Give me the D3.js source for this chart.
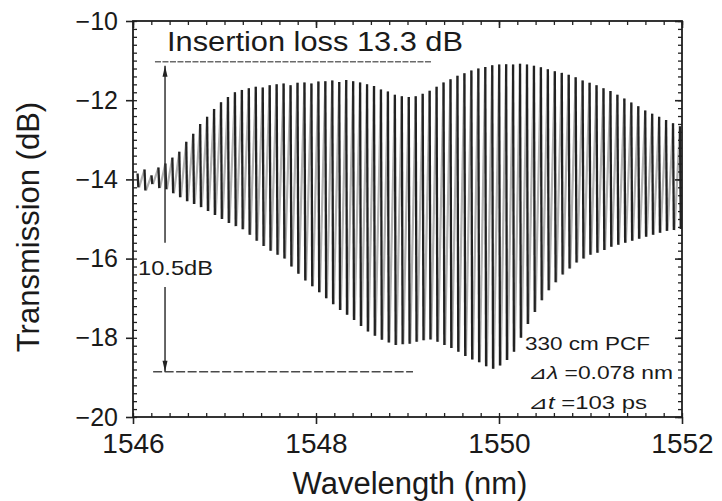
<!DOCTYPE html>
<html>
<head>
<meta charset="utf-8">
<script src="https://cdn.jsdelivr.net/npm/d3@7"></script>
<style>
  body { margin: 0; background: #fff; }
  text { font-family: "Liberation Sans", Arial, sans-serif; fill: #1a1a1a; }
</style>
</head>
<body>
<svg id="chart" width="722" height="501"></svg>
<script>
// Fringe positions (nm) with the maximum and minimum transmission of each fringe (dB)
const fringeNm = [
  1546.050, 1546.126, 1546.202, 1546.278, 1546.354, 1546.430, 1546.506, 1546.582, 1546.658, 1546.734,
  1546.810, 1546.886, 1546.962, 1547.038, 1547.114, 1547.190, 1547.266, 1547.342, 1547.418, 1547.494,
  1547.570, 1547.646, 1547.722, 1547.798, 1547.874, 1547.950, 1548.026, 1548.102, 1548.178, 1548.254,
  1548.330, 1548.406, 1548.482, 1548.558, 1548.634, 1548.710, 1548.786, 1548.862, 1548.938, 1549.014,
  1549.090, 1549.166, 1549.242, 1549.318, 1549.394, 1549.470, 1549.546, 1549.622, 1549.698, 1549.774,
  1549.850, 1549.926, 1550.002, 1550.078, 1550.154, 1550.230, 1550.306, 1550.382, 1550.458, 1550.534,
  1550.610, 1550.686, 1550.762, 1550.838, 1550.914, 1550.990, 1551.066, 1551.142, 1551.218, 1551.294,
  1551.370, 1551.446, 1551.522, 1551.598, 1551.674, 1551.750, 1551.826, 1551.902, 1551.978
];
const peakDb = [
  -13.85, -13.75, -13.90, -13.70, -13.60, -13.45, -13.30, -13.05, -12.85, -12.60,
  -12.42, -12.22, -12.05, -11.92, -11.80, -11.74, -11.70, -11.66, -11.68, -11.62,
  -11.60, -11.58, -11.62, -11.56, -11.55, -11.58, -11.53, -11.52, -11.50, -11.54,
  -11.49, -11.52, -11.55, -11.60, -11.64, -11.73, -11.78, -11.86, -11.90, -11.92,
  -11.90, -11.84, -11.76, -11.66, -11.55, -11.47, -11.38, -11.32, -11.25, -11.20,
  -11.16, -11.12, -11.10, -11.09, -11.10, -11.08, -11.10, -11.13, -11.17, -11.22,
  -11.27, -11.31, -11.36, -11.42, -11.50, -11.56, -11.62, -11.70, -11.77, -11.86,
  -11.96, -12.06, -12.15, -12.26, -12.34, -12.42, -12.50, -12.58, -12.66
];
const troughDb = [
  -14.20, -14.28, -14.12, -14.22, -14.25, -14.35, -14.45, -14.55, -14.62, -14.70,
  -14.80, -14.90, -15.00, -15.10, -15.18, -15.26, -15.40, -15.55, -15.68, -15.80,
  -15.90, -16.00, -16.20, -16.38, -16.55, -16.70, -16.85, -17.00, -17.15, -17.30,
  -17.42, -17.55, -17.70, -17.84, -17.95, -18.05, -18.12, -18.18, -18.16, -18.15,
  -18.10, -18.06, -18.04, -18.10, -18.18, -18.26, -18.35, -18.46, -18.55, -18.62,
  -18.72, -18.78, -18.70, -18.56, -18.35, -18.00, -17.65, -17.35, -17.05, -16.80,
  -16.60, -16.40, -16.25, -16.10, -16.00, -15.90, -15.85, -15.78, -15.70, -15.65,
  -15.60, -15.55, -15.50, -15.45, -15.40, -15.35, -15.30, -15.28, -15.25
];

// Axis ticks
const xTicks = [1546, 1548, 1550, 1552];
const yTicks = [-20, -18, -16, -14, -12, -10];

// Reference levels for the insertion-loss / extinction annotation
const levelDb = [-11.03, -18.86];
const levelStartNm = [1546.24, 1546.22];
const levelEndNm = [1549.27, 1549.06];
const arrowNm = 1546.35;
const arrowGapDb = [-15.6, -16.72];

const svg = d3.select("#chart");
const W = 722, H = 501;
const m = { left: 133, right: 40, top: 21, bottom: 84 };

const x = d3.scaleLinear().domain([1546, 1552]).range([m.left, W - m.right]);
const y = d3.scaleLinear().domain([-20, -10]).range([H - m.bottom, m.top]);

// ---- trace ----
const fringes = fringeNm.map((nm, i) => ({ nm, peak: peakDb[i], trough: troughDb[i] }));
const trace = svg.append("g");

// rising edges between a minimum and the next maximum
trace.selectAll("line.rise")
  .data(d3.pairs(fringes))
  .join("line")
  .attr("x1", d => x(d[0].nm) + 1.5).attr("y1", d => y(d[0].trough))
  .attr("x2", d => x(d[1].nm)).attr("y2", d => y(d[1].peak))
  .attr("stroke", "#b0b0b0").attr("stroke-width", 2.2);

// falling edges drawn as dark bars
trace.selectAll("line.fall")
  .data(fringes)
  .join("line")
  .attr("x1", d => x(d.nm)).attr("y1", d => y(d.peak))
  .attr("x2", d => x(d.nm) + 0.8).attr("y2", d => y(d.trough))
  .attr("stroke", "#222").attr("stroke-width", 2.3);

// ---- axes ----
const tickFont = g => g.selectAll("text").style("font-family", "'Liberation Sans', Arial, sans-serif");

const xMinor = x.ticks(30);
const yMinor = y.ticks(50);

// bottom
svg.append("g").attr("transform", `translate(0,${H - m.bottom})`)
  .call(d3.axisBottom(x).tickValues(xMinor).tickSize(-4).tickFormat(""))
  .call(g => g.select(".domain").remove())
  .call(g => g.selectAll("line").attr("stroke", "#222").attr("stroke-width", 1.3));
svg.append("g").attr("transform", `translate(0,${H - m.bottom})`)
  .call(d3.axisBottom(x).tickValues(xTicks).tickSize(7).tickPadding(9).tickFormat(d3.format("d")))
  .call(g => g.select(".domain").remove())
  .call(g => g.selectAll("line").attr("stroke", "#222").attr("stroke-width", 1.6))
  .call(g => g.selectAll("text").attr("font-size", 28).attr("fill", "#1a1a1a"))
  .call(tickFont);

// top
svg.append("g").attr("transform", `translate(0,${m.top})`)
  .call(d3.axisTop(x).tickValues(xMinor).tickSize(-4).tickFormat(""))
  .call(g => g.select(".domain").remove())
  .call(g => g.selectAll("line").attr("stroke", "#222").attr("stroke-width", 1.3));
svg.append("g").attr("transform", `translate(0,${m.top})`)
  .call(d3.axisTop(x).tickValues(xTicks).tickSize(-7).tickFormat(""))
  .call(g => g.select(".domain").remove())
  .call(g => g.selectAll("line").attr("stroke", "#222").attr("stroke-width", 1.6));

// left
svg.append("g").attr("transform", `translate(${m.left},0)`)
  .call(d3.axisLeft(y).tickValues(yMinor).tickSize(-4).tickFormat(""))
  .call(g => g.select(".domain").remove())
  .call(g => g.selectAll("line").attr("stroke", "#222").attr("stroke-width", 1.3));
svg.append("g").attr("transform", `translate(${m.left},0)`)
  .call(d3.axisLeft(y).tickValues(yTicks).tickSize(7).tickPadding(8).tickFormat(d3.format("d")))
  .call(g => g.select(".domain").remove())
  .call(g => g.selectAll("line").attr("stroke", "#222").attr("stroke-width", 1.6))
  .call(g => g.selectAll("text").attr("font-size", 25).attr("fill", "#1a1a1a"))
  .call(tickFont);

// right
svg.append("g").attr("transform", `translate(${W - m.right},0)`)
  .call(d3.axisRight(y).tickValues(yMinor).tickSize(-4).tickFormat(""))
  .call(g => g.select(".domain").remove())
  .call(g => g.selectAll("line").attr("stroke", "#222").attr("stroke-width", 1.3));
svg.append("g").attr("transform", `translate(${W - m.right},0)`)
  .call(d3.axisRight(y).tickValues(yTicks).tickSize(-7).tickFormat(""))
  .call(g => g.select(".domain").remove())
  .call(g => g.selectAll("line").attr("stroke", "#222").attr("stroke-width", 1.6));

// frame
svg.append("rect")
  .attr("x", m.left).attr("y", m.top)
  .attr("width", W - m.left - m.right).attr("height", H - m.top - m.bottom)
  .attr("fill", "none").attr("stroke", "#1e1e1e").attr("stroke-width", 1.8);

// axis titles
svg.append("text")
  .attr("x", 410).attr("y", 494)
  .attr("text-anchor", "middle").attr("font-size", 31)
  .text("Wavelength (nm)");
svg.append("text")
  .attr("transform", "translate(39,227) rotate(-90)")
  .attr("text-anchor", "middle").attr("font-size", 31)
  .text("Transmission (dB)");

// ---- annotations ----
const ann = svg.append("g");
ann.selectAll("line.level")
  .data(levelDb)
  .join("line")
  .attr("x1", (d, i) => x(levelStartNm[i])).attr("x2", (d, i) => x(levelEndNm[i]))
  .attr("y1", d => y(d)).attr("y2", d => y(d))
  .attr("stroke", (d, i) => i === 0 ? "#6a6a6a" : "#4a4a4a")
  .attr("stroke-width", 1.5)
  .attr("stroke-dasharray", (d, i) => i === 0 ? "6,1.5" : "9,2.5");

// double arrow between the two levels, broken around its label
const ax = x(arrowNm);
ann.append("line")
  .attr("x1", ax).attr("x2", ax)
  .attr("y1", y(levelDb[0]) + 4).attr("y2", y(arrowGapDb[0]))
  .attr("stroke", "#333").attr("stroke-width", 1.5);
ann.append("line")
  .attr("x1", ax).attr("x2", ax)
  .attr("y1", y(arrowGapDb[1])).attr("y2", y(levelDb[1]))
  .attr("stroke", "#333").attr("stroke-width", 1.5);
const topTip = y(levelDb[0]) + 4, botTip = y(levelDb[1]);
ann.append("path")
  .attr("d", `M${ax},${topTip} L${ax - 2.5},${topTip + 11} L${ax + 2.5},${topTip + 11} Z`)
  .attr("fill", "#222");
ann.append("path")
  .attr("d", `M${ax},${botTip} L${ax - 2.5},${botTip - 11} L${ax + 2.5},${botTip - 11} Z`)
  .attr("fill", "#222");

ann.append("text")
  .attr("x", 167).attr("y", 51)
  .attr("font-size", 27)
  .attr("textLength", 296).attr("lengthAdjust", "spacingAndGlyphs")
  .text("Insertion loss 13.3 dB");

ann.append("text")
  .attr("x", 138).attr("y", 275)
  .attr("font-size", 21)
  .attr("textLength", 75).attr("lengthAdjust", "spacingAndGlyphs")
  .text("10.5dB");

// fiber parameters
const params = svg.append("g").attr("font-size", 18);
params.append("text")
  .attr("x", 525).attr("y", 350)
  .attr("textLength", 125).attr("lengthAdjust", "spacingAndGlyphs")
  .text("330 cm PCF");
const l2 = params.append("text").attr("x", 528).attr("y", 379)
  .attr("textLength", 145).attr("lengthAdjust", "spacingAndGlyphs");
l2.append("tspan").text("⊿");
l2.append("tspan").attr("font-style", "italic").text("λ");
l2.append("tspan").text(" =0.078 nm");
const l3 = params.append("text").attr("x", 528).attr("y", 409)
  .attr("textLength", 119).attr("lengthAdjust", "spacingAndGlyphs");
l3.append("tspan").text("⊿");
l3.append("tspan").attr("font-style", "italic").text("t");
l3.append("tspan").text(" =103 ps");
</script>
</body>
</html>
